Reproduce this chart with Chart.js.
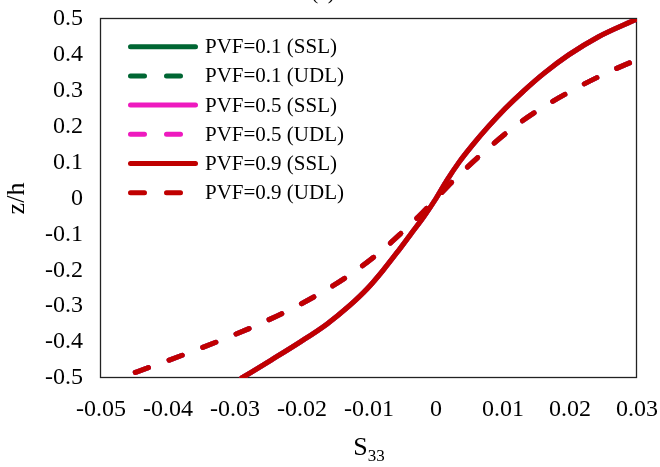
<!DOCTYPE html>
<html>
<head>
<meta charset="utf-8">
<script src="https://cdn.jsdelivr.net/npm/chart.js@4"></script>
<style>
  html, body { margin: 0; padding: 0; background: #fff; }
</style>
</head>
<body>
<canvas id="c" width="660" height="467"></canvas>
<script>
// through-thickness coordinate
const zh = [-0.5, -0.45, -0.4, -0.35, -0.3, -0.25, -0.2, -0.15, -0.1, -0.05, 0,
            0.05, 0.1, 0.15, 0.2, 0.25, 0.3, 0.35, 0.4, 0.45, 0.5];
// S33 under sinusoidal (SSL) and uniform (UDL) load, same for every PVF
const s33SSL = [-0.0290, -0.0246, -0.0203, -0.0163, -0.0130, -0.0102, -0.0079, -0.0058, -0.0038, -0.0018, 0,
                0.0016, 0.0034, 0.0055, 0.0078, 0.0103, 0.0131, 0.0162, 0.0198, 0.0242, 0.0300];
const s33UDL = [-0.0472, -0.0398, -0.0328, -0.0264, -0.0208, -0.0160, -0.0119, -0.0084, -0.0054, -0.0026, 0,
                0.0026, 0.0054, 0.0084, 0.0117, 0.0156, 0.0202, 0.0255, 0.0318, 0.0390, 0.0470];

const pvf = ['PVF=0.1', 'PVF=0.5', 'PVF=0.9'];
const pvfColors = ['#006633', '#EE1ABF', '#C00000'];

const sTicks = [-0.05, -0.04, -0.03, -0.02, -0.01, 0, 0.01, 0.02, 0.03];
const zTicks = [-0.5, -0.4, -0.3, -0.2, -0.1, 0, 0.1, 0.2, 0.3, 0.4, 0.5];

const FONT = '"Liberation Serif", "Times New Roman", serif';
const DASH = [14, 22];

const datasets = [];
pvf.forEach((p, i) => {
  datasets.push({
    label: p + ' (SSL)',
    data: zh.map((z, k) => ({ x: s33SSL[k], y: z })),
    borderColor: pvfColors[i],
    borderWidth: 5,
    borderCapStyle: 'round',
    order: (2 - i) * 2 + 2
  });
  datasets.push({
    label: p + ' (UDL)',
    data: zh.map((z, k) => ({ x: s33UDL[k], y: z })),
    borderColor: pvfColors[i],
    borderWidth: 5,
    borderCapStyle: 'round',
    borderDash: DASH,
    borderDashOffset: 19.5,
    order: (2 - i) * 2 + 1
  });
});

// plot frame, drawn under the curves
const frame = {
  id: 'frame',
  beforeDatasetsDraw(chart) {
    const { ctx, chartArea: a } = chart;
    ctx.save();
    ctx.strokeStyle = '#222';
    ctx.lineWidth = 1.3;
    ctx.strokeRect(a.left - 0.5, a.top - 0.5, a.right - a.left, a.bottom - a.top);
    ctx.restore();
  }
};

// legend in the upper left of the plot, title and S33 label
const extras = {
  id: 'extras',
  afterDraw(chart) {
    const { ctx, chartArea: a } = chart;
    ctx.save();
    ctx.fillStyle = '#000';
    ctx.textBaseline = 'middle';
    ctx.font = '21px ' + FONT;
    chart.data.datasets.forEach((ds, i) => {
      const y = 46.7 + i * 29.2;
      ctx.beginPath();
      ctx.strokeStyle = ds.borderColor;
      ctx.lineWidth = 5;
      ctx.lineCap = 'round';
      ctx.setLineDash(ds.borderDash || []);
      ctx.moveTo(130.5, y);
      ctx.lineTo(195.5, y);
      ctx.stroke();
      ctx.fillText(ds.label, 205, y + 1);
    });
    ctx.setLineDash([]);

    ctx.textBaseline = 'alphabetic';
    ctx.textAlign = 'center';
    ctx.fillText('(c)', 323, -1);

    const cx = (a.left + a.right) / 2;
    ctx.textAlign = 'left';
    ctx.font = '26px ' + FONT;
    const sw = ctx.measureText('S').width;
    ctx.font = '17px ' + FONT;
    const subw = ctx.measureText('33').width;
    const x0 = cx - (sw + subw) / 2;
    ctx.font = '26px ' + FONT;
    ctx.fillText('S', x0, 455);
    ctx.font = '17px ' + FONT;
    ctx.fillText('33', x0 + sw, 461);
    ctx.restore();
  }
};

Chart.defaults.font.family = FONT;
Chart.defaults.font.size = 24;
Chart.defaults.color = '#000';

new Chart(document.getElementById('c'), {
  type: 'line',
  data: { datasets },
  options: {
    responsive: false,
    animation: false,
    layout: { padding: { left: 0, top: 19, right: 23, bottom: 0 } },
    elements: {
      point: { radius: 0 },
      line: { cubicInterpolationMode: 'monotone' }
    },
    plugins: {
      legend: { display: false },
      tooltip: { enabled: false }
    },
    scales: {
      x: {
        type: 'linear',
        position: 'bottom',
        min: -0.05,
        max: 0.03,
        grid: { display: false, drawTicks: false },
        border: { display: false },
        ticks: { padding: 17, autoSkip: false, maxRotation: 0, callback: v => String(v) },
        afterBuildTicks: s => { s.ticks = sTicks.map(v => ({ value: v })); },
        afterFit: s => { s.height = 89; s.paddingLeft = 0; s.paddingRight = 0; }
      },
      y: {
        type: 'linear',
        min: -0.5,
        max: 0.5,
        grid: { display: false, drawTicks: false },
        border: { display: false },
        ticks: { padding: 18, callback: v => String(v) },
        afterBuildTicks: s => { s.ticks = zTicks.map(v => ({ value: v })); },
        afterFit: s => { s.width = 101; s.paddingTop = 0; s.paddingBottom = 0; },
        title: { display: true, text: 'z/h', font: { size: 26 }, padding: { top: 2, bottom: 0 } }
      }
    }
  },
  plugins: [frame, extras]
});
</script>
</body>
</html>
